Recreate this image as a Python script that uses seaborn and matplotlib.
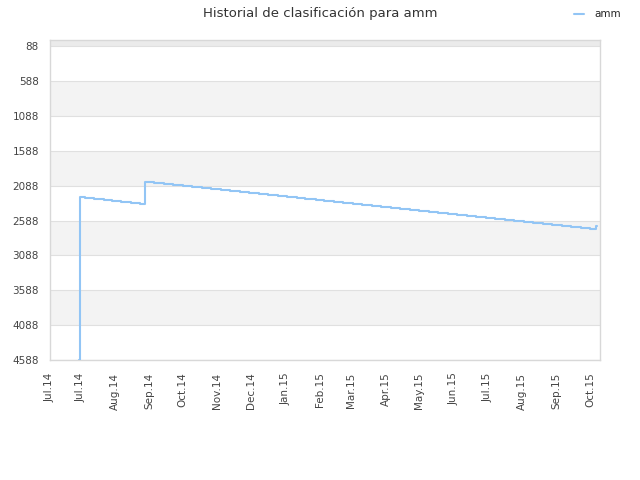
import pandas as pd
import matplotlib
matplotlib.use("Agg")
import matplotlib.pyplot as plt
import seaborn as sns

# rank history (lower = better)
dates = [
    "2014-06-30", "2014-07-01", "2014-07-05", "2014-07-13", "2014-07-22", "2014-07-30",
    "2014-08-07", "2014-08-16", "2014-08-24",
    "2014-08-28", "2014-09-05", "2014-09-14", "2014-09-22", "2014-10-01", "2014-10-09",
    "2014-10-18", "2014-10-26", "2014-11-04", "2014-11-12", "2014-11-21", "2014-11-29",
    "2014-12-08", "2014-12-16", "2014-12-25", "2015-01-02", "2015-01-11", "2015-01-19",
    "2015-01-28", "2015-02-05", "2015-02-14", "2015-02-22", "2015-03-03", "2015-03-11",
    "2015-03-20", "2015-03-28", "2015-04-06", "2015-04-14", "2015-04-23", "2015-05-01",
    "2015-05-10", "2015-05-18", "2015-05-27", "2015-06-04", "2015-06-13", "2015-06-21",
    "2015-06-30", "2015-07-08", "2015-07-17", "2015-07-25", "2015-08-03", "2015-08-11",
    "2015-08-20", "2015-08-28", "2015-09-06", "2015-09-14", "2015-09-23", "2015-10-01",
    "2015-10-06", "2015-10-07",
]
ranks = [
    4588, 2248, 2262, 2276, 2290, 2303,
    2317, 2331, 2346,
    2033, 2047, 2062, 2076, 2091, 2105,
    2119, 2134, 2148, 2163, 2177, 2191,
    2206, 2220, 2235, 2249, 2263, 2278,
    2292, 2307, 2321, 2335, 2350, 2364,
    2379, 2393, 2407, 2422, 2436, 2451,
    2465, 2479, 2494, 2508, 2523, 2537,
    2551, 2566, 2580, 2595, 2609, 2623,
    2638, 2652, 2667, 2681, 2695, 2710,
    2668, 2668,
]

y_ticks = [88, 588, 1088, 1588, 2088, 2588, 3088, 3588, 4088, 4588]
x_tick_dates = [
    "2014-06-04", "2014-07-01", "2014-08-01", "2014-09-01", "2014-10-01", "2014-11-01",
    "2014-12-01", "2015-01-01", "2015-02-01", "2015-03-01", "2015-04-01", "2015-05-01",
    "2015-06-01", "2015-07-01", "2015-08-01", "2015-09-01", "2015-10-01",
]
x_tick_labels = [
    "Jul.14", "Jul.14", "Aug.14", "Sep.14", "Oct.14", "Nov.14", "Dec.14", "Jan.15",
    "Feb.15", "Mar.15", "Apr.15", "May.15", "Jun.15", "Jul.15", "Aug.15", "Sep.15", "Oct.15",
]

df = pd.DataFrame({"fecha": pd.to_datetime(dates), "rank": ranks})

sns.set_style("white")
fig = plt.figure(figsize=(6.4, 4.8), dpi=100)
ax = fig.add_axes([50 / 640, 1 - 360 / 480, 550 / 640, 320 / 480])

# alternating bands
ax.axhspan(0, y_ticks[0], color="#ebebeb", lw=0, zorder=0)
for i in range(len(y_ticks) - 1):
    col = "#f3f3f3" if i % 2 == 1 else "white"
    ax.axhspan(y_ticks[i], y_ticks[i + 1], color=col, lw=0, zorder=0)
for t in y_ticks:
    ax.axhline(t, color="#e0e0e0", lw=0.8, zorder=1)

sns.lineplot(data=df, x="fecha", y="rank", ax=ax, color="#92c5f5", lw=1.5,
             drawstyle="steps-post", label="amm", legend=False, zorder=3)

ax.set_xlim(pd.Timestamp("2014-06-04"), pd.Timestamp("2015-10-10"))
ax.set_ylim(4588, 0)
ax.set_yticks(y_ticks)
ax.set_yticklabels([str(t) for t in y_ticks])
ax.set_xticks(pd.to_datetime(x_tick_dates))
ax.set_xticklabels(x_tick_labels, rotation=90)
ax.tick_params(length=0, labelsize=7.5, colors="#444444")
ax.tick_params(axis="y", pad=8)
ax.tick_params(axis="x", pad=9)
ax.set_xlabel("")
ax.set_ylabel("")
for s in ax.spines.values():
    s.set_color("#d8d8d8")
    s.set_linewidth(1)

fig.suptitle("Historial de clasificación para amm", y=0.985, fontsize=9.5, color="#333333")
handles, labels = ax.get_legend_handles_labels()
fig.legend(handles, labels, loc="upper right", bbox_to_anchor=(0.985, 1.0), frameon=False,
           fontsize=7.5, handlelength=1.0, handletextpad=1.0)

fig.savefig("out.png", dpi=100)
